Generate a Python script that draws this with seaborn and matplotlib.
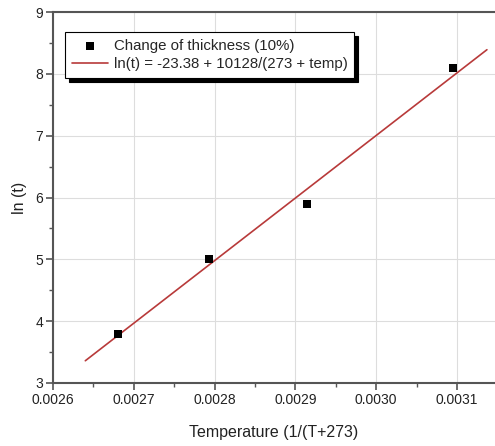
import matplotlib
matplotlib.use("Agg")
import matplotlib.pyplot as plt
import seaborn as sns
import pandas as pd
from matplotlib.ticker import MultipleLocator, FormatStrFormatter

# data
inv_temp = [0.002681, 0.002793, 0.002914, 0.003095]
ln_t = [3.80, 5.01, 5.89, 8.09]
fit_x = [0.00264, 0.003137]
fit_y = [3.36, 8.39]
point_label = "Change of thickness (10%)"
fit_label = "ln(t) = -23.38 + 10128/(273 + temp)"

sns.set_theme(style="white")
plt.rcParams['font.family'] = ['Liberation Sans', 'DejaVu Sans']

fig = plt.figure(figsize=(4.95, 4.46), dpi=100)
ax = fig.add_axes([53/495, 1-383/446, 1-53/495, (383-12)/446])

pts = pd.DataFrame({"x": inv_temp, "y": ln_t})
fit = pd.DataFrame({"x": fit_x, "y": fit_y})

sns.lineplot(data=fit, x="x", y="y", ax=ax, color="#b83a3a", lw=1.2,
             label=fit_label, zorder=3)
sns.scatterplot(data=pts, x="x", y="y", ax=ax, marker="s", color="black",
                s=26, edgecolor="black", linewidth=0, label=point_label, zorder=4)

ax.set_xlim(0.0026, 0.003147)
ax.set_ylim(3, 9)
ax.xaxis.set_major_locator(MultipleLocator(0.0001))
ax.xaxis.set_minor_locator(MultipleLocator(0.00005))
ax.xaxis.set_major_formatter(FormatStrFormatter('%.4f'))
ax.yaxis.set_major_locator(MultipleLocator(1))
ax.yaxis.set_minor_locator(MultipleLocator(0.5))

ax.grid(True, which="major", color="#dddddd", lw=0.8)
ax.set_axisbelow(True)

for s in ["left", "bottom", "top"]:
    ax.spines[s].set_color("#555555")
    ax.spines[s].set_linewidth(1.5)
ax.spines["right"].set_visible(False)

ax.tick_params(axis="both", which="major", direction="out", length=5, width=1.2,
               color="#555555", labelsize=10, labelcolor="#222222",
               bottom=True, left=True, pad=2)
ax.tick_params(axis="both", which="minor", direction="out", length=3, width=1.0,
               color="#555555", bottom=True, left=True)

ax.set_xlabel("Temperature (1/(T+273)", fontsize=11.5, color="#222222", labelpad=13)
ax.set_ylabel("ln (t)", fontsize=11.5, color="#222222", labelpad=6)

h, l = ax.get_legend_handles_labels()
order = [l.index(point_label), l.index(fit_label)]
try:
    leg = ax.legend([h[i] for i in order], [l[i] for i in order],
                    loc="upper left", bbox_to_anchor=(0.027, 0.946),
                    fontsize=10.8, frameon=True, fancybox=False,
                    shadow={"color": "black", "alpha": 1, "ox": 3, "oy": -3},
                    handlelength=2.4, borderaxespad=0, borderpad=0.45,
                    labelspacing=0.3, handletextpad=0.4)
except Exception:
    leg = ax.legend([h[i] for i in order], [l[i] for i in order],
                    loc="upper left", bbox_to_anchor=(0.027, 0.946),
                    fontsize=10.8, frameon=True, fancybox=False, shadow=True,
                    handlelength=2.4, borderaxespad=0, borderpad=0.45,
                    labelspacing=0.3, handletextpad=0.4)
leg.get_frame().set_edgecolor("black")
leg.get_frame().set_linewidth(0.8)
leg.get_frame().set_alpha(1)

fig.savefig("out.png", dpi=100)
